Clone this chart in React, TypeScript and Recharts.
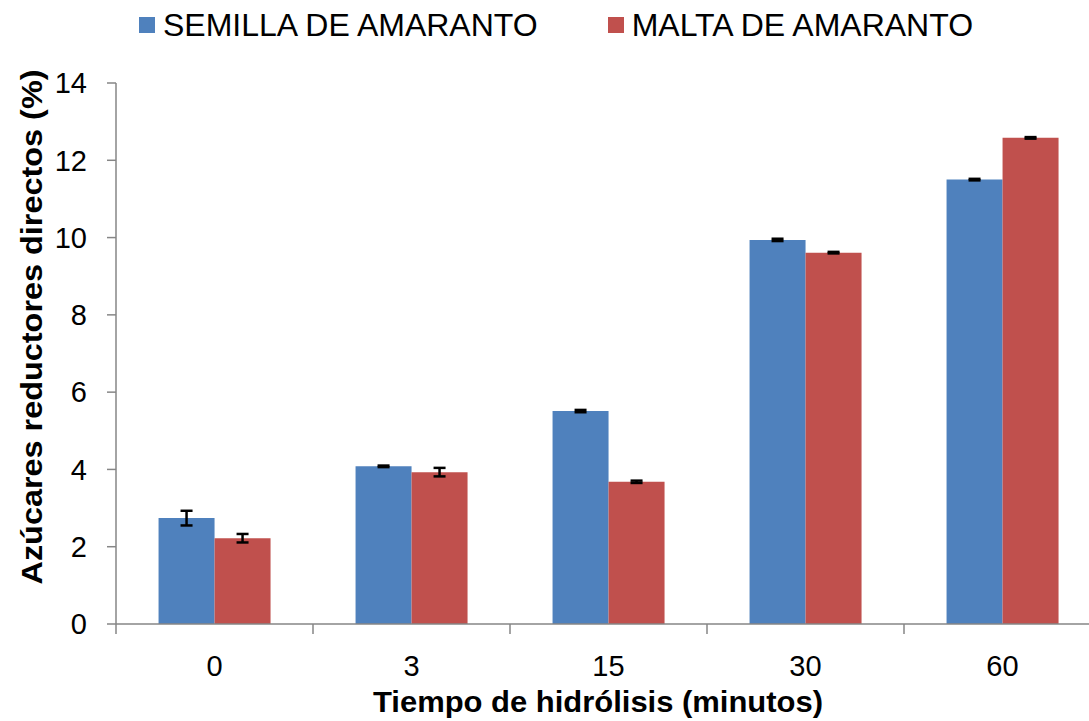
import React from "react";
import { BarChart, Bar, XAxis, YAxis, ErrorBar, Label } from "recharts";

const CATEGORIES = ["0", "3", "15", "30", "60"];
const SERIES_NAMES = ["SEMILLA DE AMARANTO", "MALTA DE AMARANTO"];
const SEMILLA = [2.74, 4.08, 5.51, 9.94, 11.5];
const SEMILLA_ERR = [0.19, 0.02, 0.03, 0.03, 0.02];
const MALTA = [2.22, 3.93, 3.68, 9.61, 12.58];
const MALTA_ERR = [0.11, 0.11, 0.03, 0.02, 0.02];
const Y_TICKS = [0, 2, 4, 6, 8, 10, 12, 14];

const BLUE = "#4F81BD";
const RED = "#C0504D";
const AXIS = "#868686";
const FONT = "Arial, 'Liberation Sans', sans-serif";

const data = CATEGORIES.map((c, i) => ({
  cat: c,
  semilla: SEMILLA[i],
  semillaErr: SEMILLA_ERR[i],
  malta: MALTA[i],
  maltaErr: MALTA_ERR[i],
}));

// ticks sit on the category boundaries, like the excel original
const XTick = (props: any) => {
  const { x, y, payload, index } = props;
  const half = payload?.offset ?? 0;
  return (
    <g>
      <line x1={x - half} x2={x - half} y1={y} y2={y + 10} stroke={AXIS} strokeWidth={1.5} />
      {index === CATEGORIES.length - 1 && (
        <line x1={x + half} x2={x + half} y1={y} y2={y + 10} stroke={AXIS} strokeWidth={1.5} />
      )}
      <text x={x} y={y + 52} textAnchor="middle" fontSize={29} fontFamily={FONT} fill="#000">
        {payload.value}
      </text>
    </g>
  );
};

const App: React.FC = () => {
  return (
    <div
      style={{
        position: "absolute",
        left: 0,
        top: 0,
        width: 1089,
        height: 721,
        overflow: "hidden",
        background: "#fff",
      }}
    >
      {/* LEGEND */}
      <div
        style={{
          position: "absolute",
          top: 9,
          left: 139,
          display: "flex",
          fontFamily: FONT,
          fontSize: 32,
          color: "#000",
          lineHeight: "32px",
        }}
      >
        {SERIES_NAMES.map((n, i) => (
          <div key={n} style={{ display: "flex", alignItems: "center", marginRight: i === 0 ? 70 : 0 }}>
            <span
              style={{
                width: 16,
                height: 16,
                background: i === 0 ? BLUE : RED,
                marginRight: 8,
                display: "inline-block",
              }}
            />
            <span>{n}</span>
          </div>
        ))}
      </div>

      <BarChart
        width={1110}
        height={721}
        data={data}
        margin={{ top: 83, right: 9, bottom: 0, left: 0 }}
        barCategoryGap="21.6%"
        barGap={0}
      >
        <XAxis
          dataKey="cat"
          height={97}
          axisLine={{ stroke: AXIS, strokeWidth: 1.5 }}
          tickLine={false}
          tickSize={0}
          tickMargin={0}
          tick={<XTick />}
          interval={0}
        >
          <Label
            content={() => (
              <text
                x={598}
                y={712}
                textAnchor="middle"
                fontSize={30}
                fontWeight="bold"
                fontFamily={FONT}
                fill="#000"
                textLength={450}
                lengthAdjust="spacingAndGlyphs"
              >
                Tiempo de hidrólisis (minutos)
              </text>
            )}
          />
        </XAxis>
        <YAxis
          width={116}
          domain={[0, 14]}
          ticks={Y_TICKS}
          interval={0}
          axisLine={{ stroke: AXIS, strokeWidth: 1.5 }}
          tickLine={{ stroke: AXIS, strokeWidth: 1.5 }}
          tickSize={9}
          tickMargin={20}
          tick={{ fontSize: 29, fontFamily: FONT, fill: "#000" }}
        >
          <Label
            content={() => (
              <text
                x={42}
                y={327}
                transform="rotate(-90 42 327)"
                textAnchor="middle"
                fontSize={30}
                fontWeight="bold"
                fontFamily={FONT}
                fill="#000"
                textLength={515}
                lengthAdjust="spacingAndGlyphs"
              >
                Azúcares reductores directos (%)
              </text>
            )}
          />
        </YAxis>
        <Bar dataKey="semilla" name={SERIES_NAMES[0]} fill={BLUE} isAnimationActive={false}>
          <ErrorBar dataKey="semillaErr" width={6} stroke="#000" strokeWidth={2.5} isAnimationActive={false} />
        </Bar>
        <Bar dataKey="malta" name={SERIES_NAMES[1]} fill={RED} isAnimationActive={false}>
          <ErrorBar dataKey="maltaErr" width={6} stroke="#000" strokeWidth={2.5} isAnimationActive={false} />
        </Bar>
      </BarChart>
    </div>
  );
};

export default App;
